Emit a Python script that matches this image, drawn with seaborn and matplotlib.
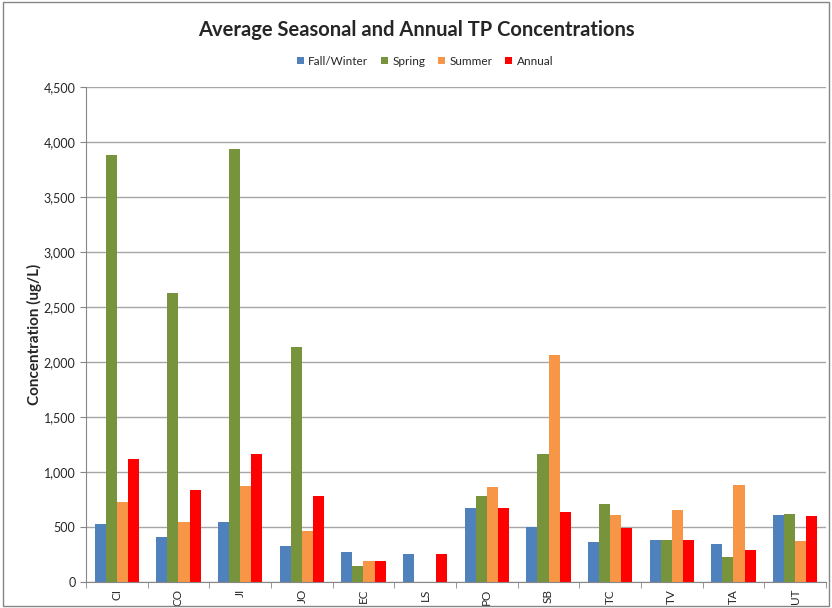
import pandas as pd
import numpy as np
import matplotlib
matplotlib.use("Agg")
import matplotlib.pyplot as plt
import seaborn as sns

sites = ['CI', 'CO', 'JI', 'JO', 'EC', 'LS', 'PO', 'SB', 'TC', 'TV', 'TA', 'UT']
fall_winter = [530, 410, 545, 330, 270, 255, 670, 500, 365, 385, 350, 610]
spring = [3880, 2630, 3940, 2140, 150, 0, 780, 1165, 710, 380, 230, 615]
summer = [730, 545, 875, 465, 190, 0, 865, 2065, 605, 655, 880, 370]
annual = [1120, 835, 1160, 780, 190, 255, 670, 635, 490, 385, 290, 600]
seasons = ['Fall/Winter', 'Spring', 'Summer', 'Annual']
colors = ['#4F81BD', '#77933C', '#F79646', '#FF0000']

df = pd.DataFrame({'site': sites, 'Fall/Winter': fall_winter, 'Spring': spring,
                   'Summer': summer, 'Annual': annual})
long = df.melt(id_vars='site', var_name='season', value_name='tp')

sns.set_style('white')
plt.rcParams['font.family'] = ['Lato', 'DejaVu Sans']

fig = plt.figure(figsize=(8.32, 6.08), dpi=100)
ax = fig.add_axes([86 / 832, 1 - 582 / 608, (826 - 86) / 832, (582 - 87) / 608])

sns.barplot(data=long, x='site', y='tp', hue='season', order=sites,
            hue_order=seasons, palette=colors, width=0.72, saturation=1,
            edgecolor='none', ax=ax)

ax.set_ylim(0, 4500)
ax.set_yticks(np.arange(0, 4501, 500))
ax.set_yticklabels([f'{v:,}' for v in range(0, 4501, 500)], fontsize=9)
ax.yaxis.grid(True, color='#A6A6A6', linewidth=1)
ax.set_axisbelow(True)
ax.set_xlim(-0.5, len(sites) - 0.5)
ax.set_xticks(range(len(sites)))
ax.set_xticklabels(sites, rotation=90, fontsize=8.5, ha='center', va='top')
ax.set_xticks(np.arange(-0.5, len(sites)), minor=True)
ax.tick_params(axis='x', which='major', length=0, pad=5)
ax.tick_params(axis='x', which='minor', length=4, color='#868686', direction='out', bottom=True)
ax.tick_params(axis='y', length=4, color='#868686', direction='out', left=True)
ax.set_xlabel('')
ax.set_ylabel('Concentration (ug/L)', fontsize=11, fontweight='bold', labelpad=1)
for s in ['top', 'right']:
    ax.spines[s].set_visible(False)
for s in ['left', 'bottom']:
    ax.spines[s].set_color('#868686')

handles, labels = ax.get_legend_handles_labels()
ax.legend(handles, labels, loc='upper center', bbox_to_anchor=(0.458, 1.085),
          ncol=4, frameon=False, fontsize=8.5, handlelength=0.6, handleheight=0.6,
          columnspacing=1.1, handletextpad=0.35)

fig.text(0.5, 1 - 30 / 608, 'Average Seasonal and Annual TP Concentrations',
         ha='center', va='center', fontsize=14.5, fontweight='bold')

fig.patches.append(plt.Rectangle((0.004, 0.003), 0.992, 0.994, transform=fig.transFigure,
                                 fill=False, edgecolor='#868686', linewidth=1))

fig.savefig('out.png', dpi=100)
